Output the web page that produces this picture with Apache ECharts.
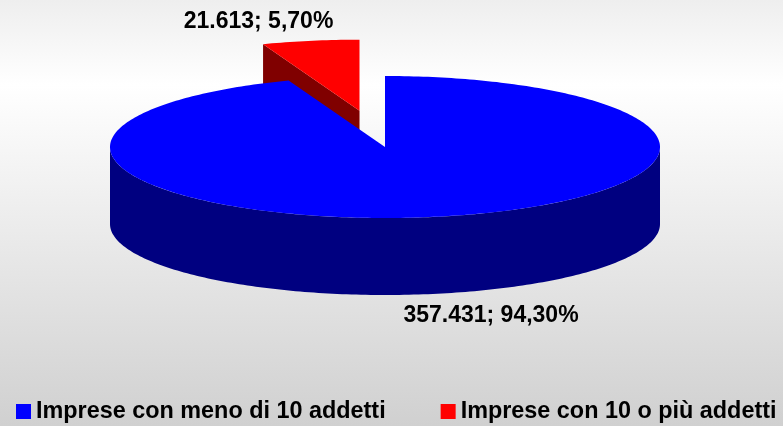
<!DOCTYPE html>
<html>
<head>
<meta charset="utf-8">
<script src="https://cdn.jsdelivr.net/npm/echarts@6/dist/echarts.min.js"></script>
<style>
    html, body { margin: 0; padding: 0; }
    #chart { width: 783px; height: 426px; }
</style>
</head>
<body>
<div id="chart"></div>
<script>
// dati
var categories = ['Imprese con meno di 10 addetti', 'Imprese con 10 o più addetti'];
var values = [357431, 21613];
var colors = ['#0000FF', '#FF0000'];
var sideColors = ['#000080', '#800000'];

// layout della torta 3D (ellisse in pixel)
var CX = 385, CY = 147, RX = 275, RY = 71, DEPTH = 77;
var explode = [0, 0.52];
var labelOffset = [[57, 22], [-52, -19]];

function fmtNum(v) {
    return String(v).replace(/\B(?=(\d{3})+(?!\d))/g, '.');
}
function fmtPct(p) {
    return (p * 100).toFixed(2).replace('.', ',') + '%';
}

// angoli: partenza a ore 12, senso orario
var total = 0;
for (var i = 0; i < values.length; i++) total += values[i];
var slices = [];
var acc = 0;
for (var i = 0; i < values.length; i++) {
    var t0 = acc / total * Math.PI * 2;
    acc += values[i];
    var t1 = acc / total * Math.PI * 2;
    var mid = (t0 + t1) / 2;
    slices.push({
        t0: t0, t1: t1, mid: mid,
        ox: explode[i] * RX * Math.sin(mid),
        oy: -explode[i] * RY * Math.cos(mid),
        label: fmtNum(values[i]) + '; ' + fmtPct(values[i] / total)
    });
}

function pt(t, ox, oy, down) {
    return [CX + ox + RX * Math.sin(t), CY + oy - RY * Math.cos(t) + (down ? DEPTH : 0)];
}
function arc(a, b, ox, oy, down) {
    var pts = [];
    var n = Math.max(2, Math.ceil((b - a) / (Math.PI / 180)));
    for (var k = 0; k <= n; k++) {
        pts.push(pt(a + (b - a) * k / n, ox, oy, down));
    }
    return pts;
}

function renderSlice(params, api) {
    var i = params.seriesIndex;
    var s = slices[i];
    var c = [CX + s.ox, CY + s.oy];
    var cb = [c[0], c[1] + DEPTH];
    var children = [];
    // parete esterna (solo la metà anteriore è visibile)
    var a = Math.max(s.t0, Math.PI / 2), b = Math.min(s.t1, Math.PI * 1.5);
    if (b > a) {
        var pts = arc(a, b, s.ox, s.oy, false).concat(arc(a, b, s.ox, s.oy, true).reverse());
        children.push({ type: 'polygon', shape: { points: pts }, style: { fill: sideColors[i] } });
    }
    // facce radiali
    if (Math.sin(s.t0) < -1e-6) {
        children.push({ type: 'polygon', shape: { points: [c, pt(s.t0, s.ox, s.oy, false), pt(s.t0, s.ox, s.oy, true), cb] }, style: { fill: sideColors[i] } });
    }
    if (Math.sin(s.t1) > 1e-6) {
        children.push({ type: 'polygon', shape: { points: [c, pt(s.t1, s.ox, s.oy, false), pt(s.t1, s.ox, s.oy, true), cb] }, style: { fill: sideColors[i] } });
    }
    // faccia superiore
    children.push({ type: 'polygon', shape: { points: [c].concat(arc(s.t0, s.t1, s.ox, s.oy, false)) }, style: { fill: colors[i] } });
    // etichetta
    var down = Math.cos(s.mid) < 0;
    var lp = pt(s.mid, s.ox, s.oy, down);
    children.push({
        type: 'text',
        x: lp[0] + labelOffset[i][0],
        y: lp[1] + labelOffset[i][1],
        style: {
            text: s.label,
            fill: '#000',
            font: 'bold 23px "Liberation Sans", Arial, sans-serif',
            align: 'center',
            verticalAlign: 'middle'
        }
    });
    return { type: 'group', children: children };
}

// ordine di disegno: prima le fette in fondo
var order = slices.map(function (s, i) { return i; }).sort(function (p, q) {
    return Math.cos(slices[q].mid) - Math.cos(slices[p].mid);
});
var zOf = [];
order.forEach(function (idx, rank) { zOf[idx] = rank + 2; });

var series = [];
for (var i = 0; i < values.length; i++) {
    series.push({
        name: categories[i],
        type: 'custom',
        coordinateSystem: 'none',
        z: zOf[i],
        silent: true,
        itemStyle: { color: colors[i] },
        renderItem: renderSlice,
        data: [[values[i]]]
    });
}

var chart = echarts.init(document.getElementById('chart'));
chart.setOption({
    backgroundColor: {
        type: 'linear', x: 0, y: 0, x2: 0, y2: 1,
        colorStops: [
            { offset: 0, color: '#eeeeee' },
            { offset: 0.2, color: '#ffffff' },
            { offset: 1, color: '#d0d0d0' }
        ]
    },
    animation: false,
    legend: {
        left: 11,
        top: 395,
        icon: 'rect',
        itemWidth: 15,
        itemHeight: 15,
        itemGap: 55,
        selectedMode: false,
        textStyle: {
            fontFamily: '"Liberation Sans", Arial, sans-serif',
            fontSize: 23.4,
            fontWeight: 'bold',
            color: '#000'
        },
        data: categories
    },
    series: series
});
</script>
</body>
</html>
